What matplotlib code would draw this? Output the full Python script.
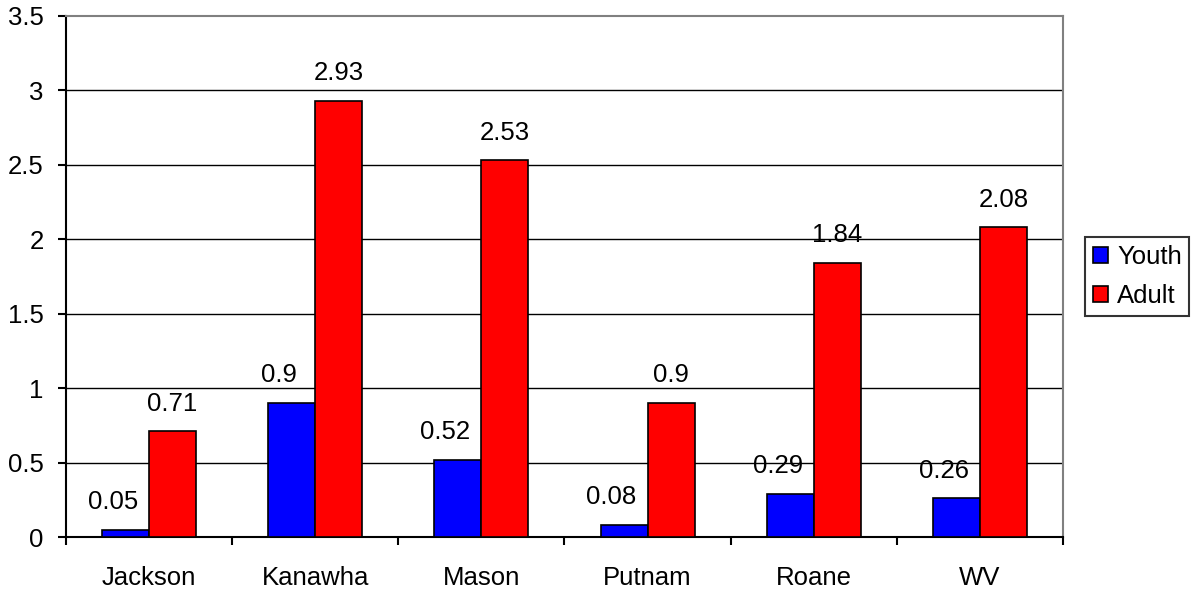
import numpy as np
import matplotlib.pyplot as plt

plt.rcParams['font.family'] = ['Liberation Sans', 'DejaVu Sans']

counties = ['Jackson', 'Kanawha', 'Mason', 'Putnam', 'Roane', 'WV']
youth = [0.05, 0.9, 0.52, 0.08, 0.29, 0.26]
adult = [0.71, 2.93, 2.53, 0.9, 1.84, 2.08]
yticks = [0, 0.5, 1, 1.5, 2, 2.5, 3, 3.5]
ytick_labels = ['0', '0.5', '1', '1.5', '2', '2.5', '3', '3.5']

fs = 18.5

fig = plt.figure(figsize=(11.95, 5.9), dpi=100)
ax = fig.add_axes([0.0552, 0.0898, 0.8343, 0.8831])

x = np.arange(len(counties))
w = 0.283
b1 = ax.bar(x - w / 2, youth, w, color='#0000ff', edgecolor='black', linewidth=1.2, label='Youth', zorder=3)
b2 = ax.bar(x + w / 2, adult, w, color='#ff0000', edgecolor='black', linewidth=1.2, label='Adult', zorder=3)

# youth labels sit a little left of their bars in the original
for bars, vals, dx in ((b1, youth, -9), (b2, adult, 0)):
    for r, v in zip(bars, vals):
        ax.annotate(f'{v:g}', (r.get_x() + r.get_width() / 2, v), xytext=(dx, 20),
                    textcoords='offset points', ha='center', va='center', fontsize=fs)

ax.set_xlim(-0.5, len(counties) - 0.5)
ax.set_ylim(0, 3.5)
ax.set_yticks(yticks)
ax.set_yticklabels(ytick_labels, fontsize=fs)
for y in yticks[1:-1]:
    ax.axhline(y, color='black', linewidth=1, zorder=1)

ax.set_xticks(x)
ax.set_xticklabels(counties, fontsize=fs)
ax.set_xticks(np.arange(len(counties) + 1) - 0.5, minor=True)
ax.tick_params(axis='x', which='major', length=0, pad=21)
ax.tick_params(axis='x', which='minor', length=6, width=1.5, direction='out')
ax.tick_params(axis='y', length=6, width=1.5, direction='out', pad=10)

ax.spines['left'].set_linewidth(1.5)
ax.spines['bottom'].set_linewidth(1.5)
ax.spines['top'].set_color('#808080')
ax.spines['right'].set_color('#808080')
ax.spines['top'].set_linewidth(1.5)
ax.spines['right'].set_linewidth(1.5)

leg = ax.legend(loc='center left', bbox_to_anchor=(1.022, 0.5), fontsize=fs,
                frameon=True, fancybox=False, edgecolor='black',
                handlelength=0.6, handleheight=0.6, handletextpad=0.35,
                borderpad=0.3, labelspacing=0.6, borderaxespad=0)
leg.get_frame().set_linewidth(1.5)

fig.savefig('out.png', dpi=100)
